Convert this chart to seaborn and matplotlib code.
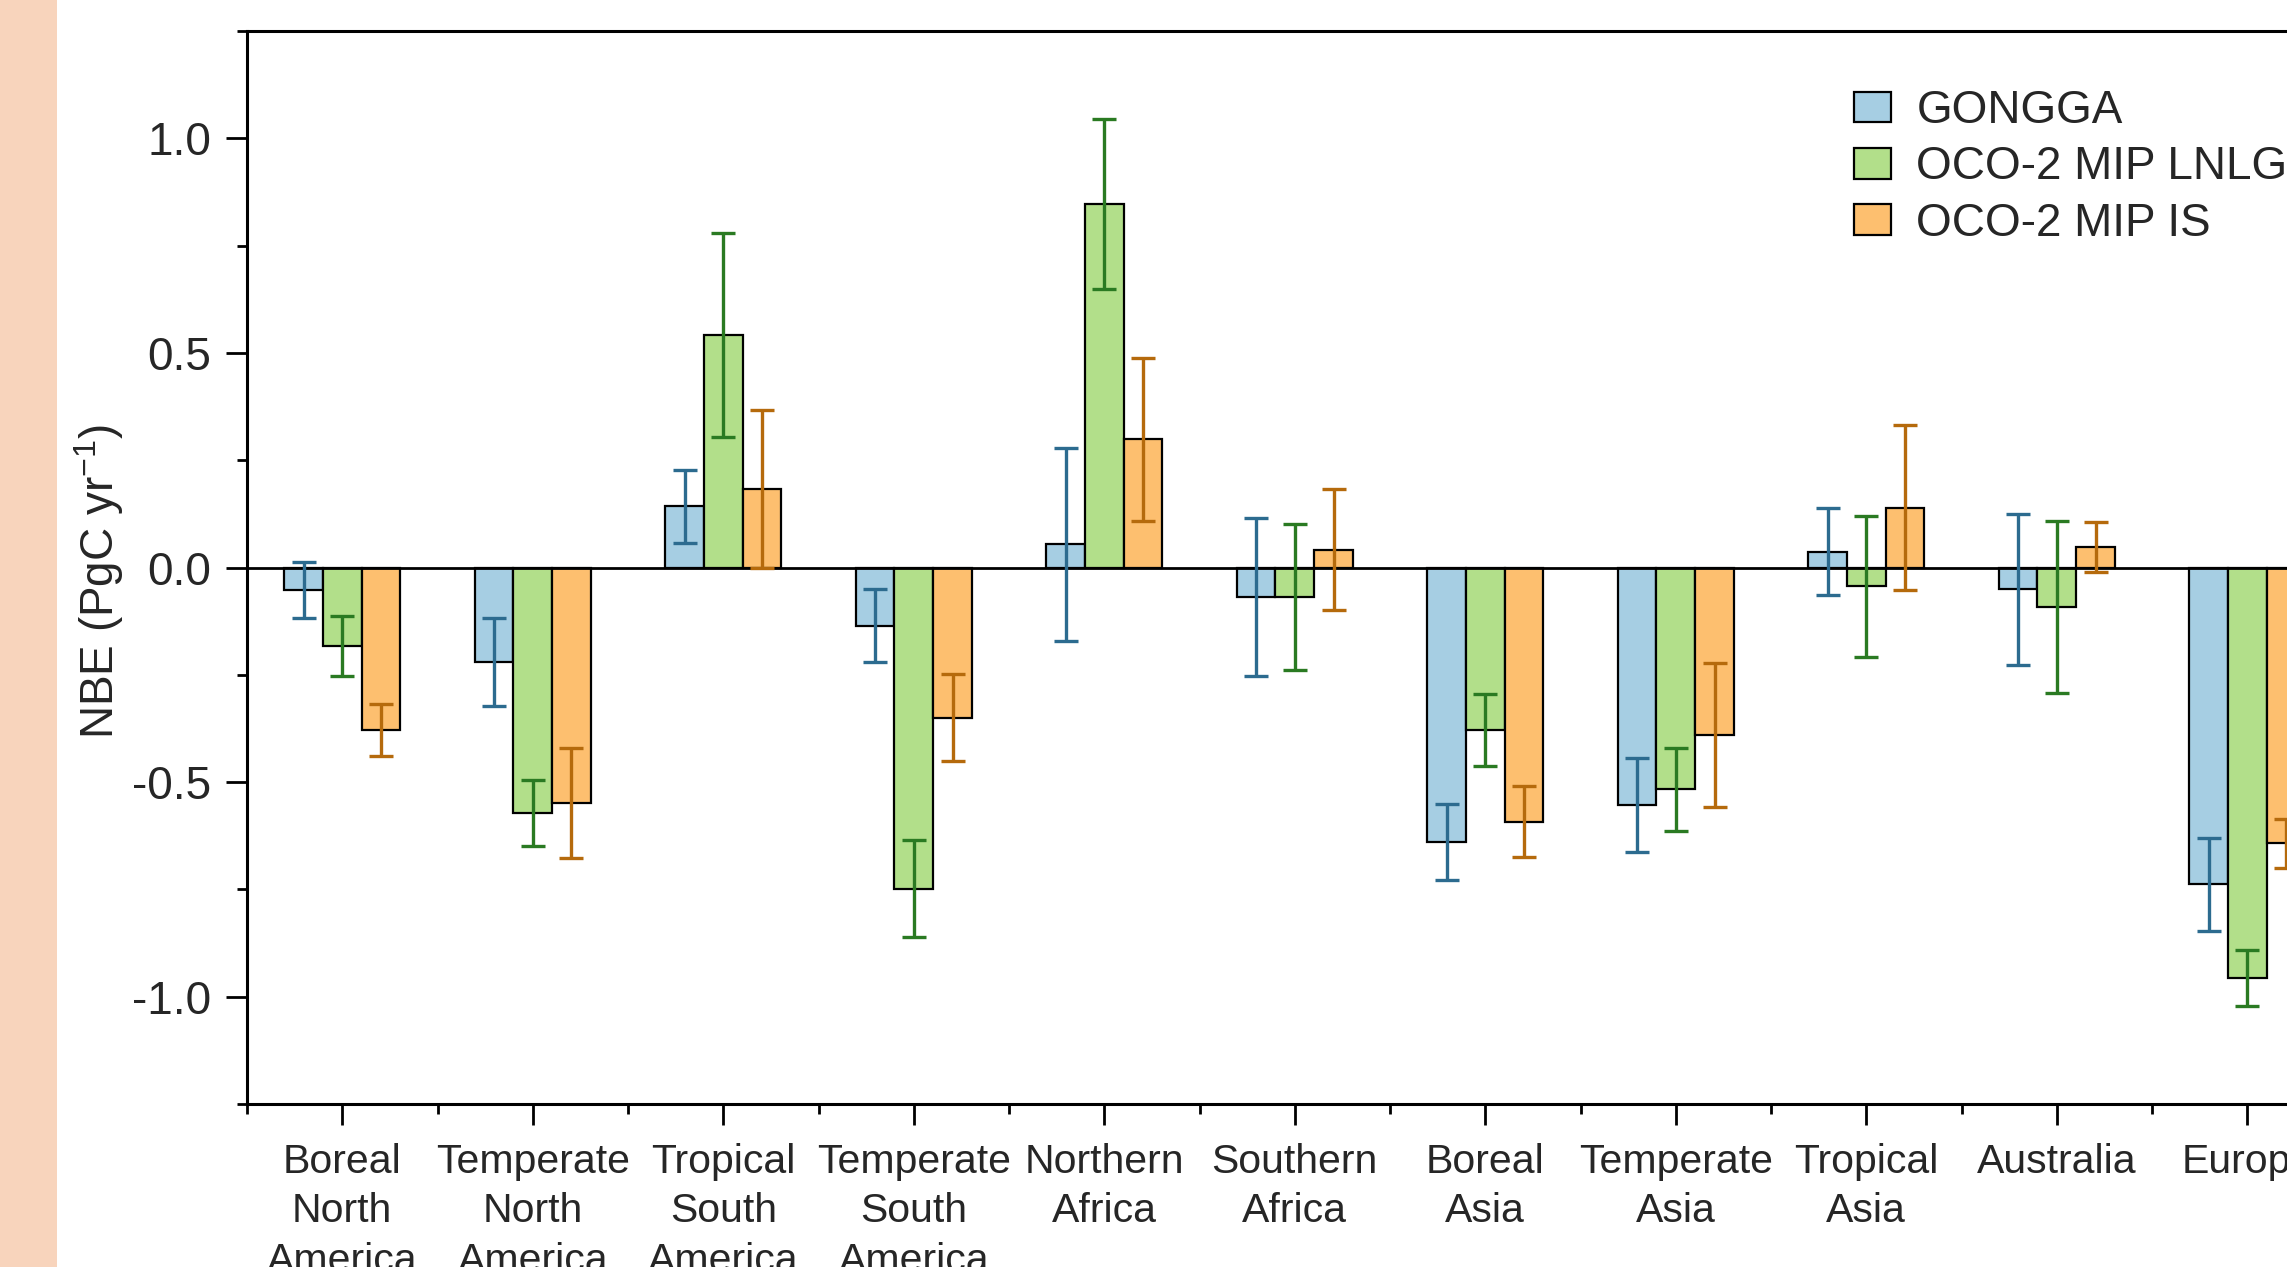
import numpy as np
import pandas as pd
import matplotlib.pyplot as plt
import seaborn as sns
from matplotlib.patches import Rectangle
from matplotlib.ticker import MultipleLocator, FixedLocator

# regions (x axis)
regions = [
    "Boreal\nNorth\nAmerica", "Temperate\nNorth\nAmerica", "Tropical\nSouth\nAmerica",
    "Temperate\nSouth\nAmerica", "Northern\nAfrica", "Southern\nAfrica",
    "Boreal\nAsia", "Temperate\nAsia", "Tropical\nAsia", "Australia", "Europe",
]
sources = ["GONGGA", "OCO-2 MIP LNLG", "OCO-2 MIP IS"]

# NBE values (PgC/yr)
gongga = [-0.053, -0.220, 0.143, -0.136, 0.054, -0.068, -0.639, -0.554, 0.037, -0.051, -0.738]
lnlg = [-0.183, -0.572, 0.541, -0.748, 0.847, -0.068, -0.378, -0.517, -0.044, -0.092, -0.956]
is_ = [-0.379, -0.549, 0.184, -0.350, 0.299, 0.041, -0.592, -0.391, 0.139, 0.048, -0.643]

# error bar half widths
gongga_err = [0.065, 0.103, 0.085, 0.085, 0.225, 0.184, 0.088, 0.110, 0.102, 0.175, 0.108]
lnlg_err = [0.069, 0.077, 0.238, 0.112, 0.199, 0.170, 0.084, 0.097, 0.165, 0.200, 0.065]
is_err = [0.061, 0.129, 0.184, 0.102, 0.190, 0.141, 0.083, 0.168, 0.192, 0.058, 0.058]

fill_colors = ["#A6CEE3", "#B2DF8A", "#FDBF6F"]
err_colors = ["#2C6B8F", "#2A7A22", "#B56A0C"]

df = pd.DataFrame({
    "Region": regions * 3,
    "Source": np.repeat(sources, len(regions)),
    "NBE": gongga + lnlg + is_,
})
errs = [gongga_err, lnlg_err, is_err]

sns.set_theme(style="ticks")
plt.rcParams["font.family"] = ["Liberation Sans", "DejaVu Sans"]
plt.rcParams["mathtext.default"] = "regular"

fig = plt.figure(figsize=(22.87, 12.67), dpi=100)
fig.add_artist(Rectangle((0, 0), 57 / 2287, 1, transform=fig.transFigure,
                         facecolor="#F8D4BC", edgecolor="none", zorder=0))

ax = fig.add_axes([0.108, 0.12865, 0.9996, 0.84688])

sns.barplot(
    data=df, x="Region", y="NBE", hue="Source",
    order=regions, hue_order=sources, palette=fill_colors, saturation=1,
    width=0.61, gap=0, errorbar=None,
    edgecolor="black", linewidth=1.6, ax=ax, zorder=2,
)

# error bars on the bars drawn by seaborn
for cont, e, c in zip(ax.containers, errs, err_colors):
    xs = [p.get_x() + p.get_width() / 2 for p in cont.patches]
    ys = [p.get_y() + p.get_height() for p in cont.patches]
    ax.errorbar(xs, ys, yerr=e, fmt="none", ecolor=c, elinewidth=2.4,
                capsize=8.5, capthick=2.4, zorder=4)

ax.axhline(0, color="black", lw=2, zorder=3)

ax.set_xlim(-0.5, 11.5)
ax.set_ylim(-1.25, 1.25)
ax.yaxis.set_major_locator(FixedLocator([-1.0, -0.5, 0.0, 0.5, 1.0]))
ax.yaxis.set_minor_locator(MultipleLocator(0.25))
ax.xaxis.set_minor_locator(FixedLocator(np.arange(-0.5, 12, 1)))
ax.set_yticklabels(["-1.0", "-0.5", "0.0", "0.5", "1.0"])

for s in ax.spines.values():
    s.set_linewidth(2.2)
    s.set_color("black")

ax.tick_params(axis="both", which="major", length=15, width=2, direction="out", color="black")
ax.tick_params(axis="both", which="minor", length=7.5, width=2, direction="out", color="black")
ax.tick_params(axis="y", labelsize=33, pad=11)
ax.tick_params(axis="x", labelsize=29.5, pad=13)
for t in ax.get_xticklabels():
    t.set_linespacing(1.38)

ax.set_xlabel("")
ax.set_ylabel("NBE (PgC yr$^{-1}$)", fontsize=33)
ax.yaxis.set_label_coords(-0.053, 0.487)

ax.legend(
    loc="upper left", bbox_to_anchor=(1854 / 2287, 1 - 89 / 1267),
    bbox_transform=fig.transFigure, frameon=False, fontsize=33,
    handlelength=0.81, handleheight=0.65, handletextpad=0.55,
    labelspacing=0.27, borderpad=0, borderaxespad=0,
)

fig.savefig("out.png", dpi=100)
